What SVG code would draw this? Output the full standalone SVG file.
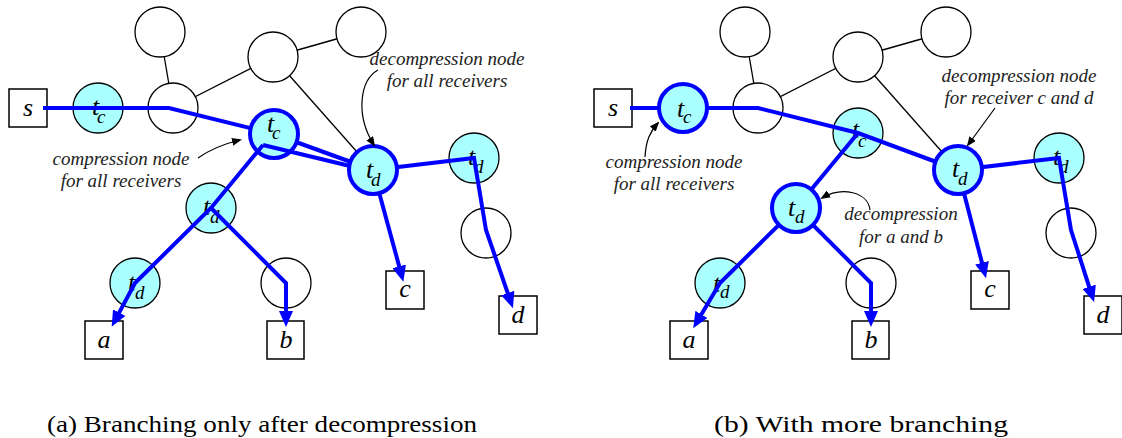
<svg xmlns="http://www.w3.org/2000/svg" width="1122" height="438" viewBox="0 0 1122 438">
<style>
.e{stroke:#000;stroke-width:1.3;fill:none}
.w{fill:#fff;stroke:#000;stroke-width:1.3}
.cy{fill:#aaffff;stroke:#000;stroke-width:1.3}
.bd{fill:#aaffff;stroke:#0000ff;stroke-width:4}
.bx{fill:#fff;stroke:#000;stroke-width:1.5}
.bl{stroke:#0000ff;stroke-width:4;fill:none;stroke-linejoin:miter}
.an{stroke:#000;stroke-width:1.2;fill:none}
.lb{font-family:'Liberation Serif','Times New Roman','DejaVu Serif',serif;font-style:italic;font-size:26px;fill:#000}
.sb{font-family:'Liberation Serif','Times New Roman','DejaVu Serif',serif;font-style:italic;font-size:19px;fill:#000}
.nt{font-family:'Liberation Serif','Times New Roman','DejaVu Serif',serif;font-style:italic;font-size:19px;fill:#222;text-anchor:middle}
.cap{font-family:'Liberation Serif','Times New Roman','DejaVu Serif',serif;font-size:23px;fill:#000}
</style>
<defs>
<marker id="ab" viewBox="0 0 16 14" refX="10" refY="7" markerWidth="16" markerHeight="14" markerUnits="userSpaceOnUse" orient="auto"><path d="M0,0 L16,7 L0,14 z" fill="#0000ff"/></marker>
<marker id="ak" viewBox="0 0 10 8" refX="8" refY="4" markerWidth="10" markerHeight="8" markerUnits="userSpaceOnUse" orient="auto"><path d="M0,0 L10,4 L0,8 z" fill="#000"/></marker>
</defs>

<!-- ===== Left diagram (a) ===== -->
<g id="a-edges">
<line class="e" x1="160" y1="32" x2="173" y2="108"/>
<line class="e" x1="173" y1="108" x2="273" y2="57"/>
<line class="e" x1="273" y1="57" x2="361" y2="32"/>
<line class="e" x1="273" y1="57" x2="373" y2="170"/>
</g>
<g id="a-n1"><circle class="w" cx="160" cy="32" r="25"/></g>
<g id="a-n2"><circle class="w" cx="173" cy="108" r="25"/></g>
<g id="a-n3"><circle class="w" cx="273" cy="57" r="25"/></g>
<g id="a-n4"><circle class="w" cx="361" cy="32" r="25"/></g>
<g id="a-n5"><circle class="w" cx="286" cy="283" r="25"/></g>
<g id="a-n6"><circle class="w" cx="486" cy="233" r="25"/></g>
<g id="a-tc1"><circle class="cy" cx="98" cy="108" r="25"/><text class="lb" x="92" y="115">t</text><text class="sb" x="97" y="123">c</text></g>
<g id="a-td1"><circle class="cy" cx="211" cy="208" r="25"/><text class="lb" x="203" y="215">t</text><text class="sb" x="210" y="223">d</text></g>
<g id="a-td2"><circle class="cy" cx="135" cy="283" r="25"/><text class="lb" x="128" y="291">t</text><text class="sb" x="135" y="299">d</text></g>
<g id="a-td3"><circle class="cy" cx="474" cy="158" r="25"/><text class="lb" x="468" y="165">t</text><text class="sb" x="474" y="173">d</text></g>
<g id="a-s"><rect class="bx" x="9" y="89" width="38" height="38"/><text class="lb" x="28" y="116" text-anchor="middle">s</text></g>
<g id="a-a"><rect class="bx" x="85" y="321" width="38" height="38"/><text class="lb" x="104" y="348" text-anchor="middle">a</text></g>
<g id="a-b"><rect class="bx" x="267" y="321" width="37" height="38"/><text class="lb" x="286" y="348" text-anchor="middle">b</text></g>
<g id="a-c"><rect class="bx" x="386" y="271" width="38" height="38"/><text class="lb" x="405" y="297" text-anchor="middle">c</text></g>
<g id="a-d"><rect class="bx" x="499" y="296" width="38" height="38"/><text class="lb" x="518" y="323" text-anchor="middle">d</text></g>

<g id="a-paths">
<path class="bl" d="M43,108 L169,108 L274,134"/>
<path class="bl" d="M274,134 L373,170"/>
<path class="bl" d="M373,170 L474,158 L486,230 L511,302.5" marker-end="url(#ab)"/>
<path class="bl" d="M373,170 L401.8,276" marker-end="url(#ab)"/>
<path class="bl" d="M211,208 L286,283 L286,321" marker-end="url(#ab)"/>
</g>
<g id="a-tcb"><circle class="bd" cx="274" cy="134" r="24"/><text class="lb" x="267" y="132">t</text><text class="sb" x="272" y="139">c</text></g>
<g id="a-paths2">
<path class="bl" d="M263,145 L350,166" stroke-width="3"/>
<path class="bl" d="M263,145 L211,208 L135,283 L114.5,321.4" marker-end="url(#ab)"/>
</g>
<g id="a-tdb"><circle class="bd" cx="373" cy="170" r="24"/><text class="lb" x="366" y="178">t</text><text class="sb" x="371" y="186">d</text></g>

<g id="a-notes">
<text class="nt" x="121" y="165">compression node</text>
<text class="nt" x="121" y="187">for all receivers</text>
<path class="an" d="M198,158 Q215,146 240,140" marker-end="url(#ak)"/>
<text class="nt" x="447" y="65">decompression node</text>
<text class="nt" x="447" y="87">for all receivers</text>
<path class="an" d="M378,70 C360,80 355,115 374,145" marker-end="url(#ak)"/>
</g>

<!-- ===== Right diagram (b) ===== -->
<g id="b-edges">
<line class="e" x1="745" y1="32" x2="758" y2="108"/>
<line class="e" x1="758" y1="108" x2="858" y2="57"/>
<line class="e" x1="858" y1="57" x2="946" y2="32"/>
<line class="e" x1="858" y1="57" x2="958" y2="170"/>
</g>
<g id="b-n1"><circle class="w" cx="745" cy="32" r="25"/></g>
<g id="b-n2"><circle class="w" cx="758" cy="108" r="25"/></g>
<g id="b-n3"><circle class="w" cx="858" cy="57" r="25"/></g>
<g id="b-n4"><circle class="w" cx="946" cy="32" r="25"/></g>
<g id="b-n5"><circle class="w" cx="871" cy="283" r="25"/></g>
<g id="b-n6"><circle class="w" cx="1071" cy="233" r="25"/></g>
<g id="b-tc2"><circle class="cy" cx="858" cy="133" r="25"/><text class="lb" x="852" y="138">t</text><text class="sb" x="858" y="147">c</text></g>
<g id="b-td2"><circle class="cy" cx="720" cy="283" r="25"/><text class="lb" x="713" y="292">t</text><text class="sb" x="720" y="298">d</text></g>
<g id="b-td3"><circle class="cy" cx="1059" cy="158" r="25"/><text class="lb" x="1053" y="165">t</text><text class="sb" x="1059" y="173">d</text></g>
<g id="b-s"><rect class="bx" x="594" y="89" width="38" height="38"/><text class="lb" x="613" y="116" text-anchor="middle">s</text></g>
<g id="b-a"><rect class="bx" x="670" y="321" width="38" height="38"/><text class="lb" x="689" y="348" text-anchor="middle">a</text></g>
<g id="b-b"><rect class="bx" x="852" y="321" width="37" height="38"/><text class="lb" x="871" y="348" text-anchor="middle">b</text></g>
<g id="b-c"><rect class="bx" x="971" y="271" width="38" height="38"/><text class="lb" x="990" y="297" text-anchor="middle">c</text></g>
<g id="b-d"><rect class="bx" x="1084" y="296" width="38" height="38"/><text class="lb" x="1103" y="323" text-anchor="middle">d</text></g>

<g id="b-paths">
<path class="bl" d="M630,108 L683,108"/>
<path class="bl" d="M683,108 L758,108 L858,133 L958,170"/>
<path class="bl" d="M858,133 L796,208"/>
<path class="bl" d="M796,208 L720,283 L696.3,323" marker-end="url(#ab)"/>
<path class="bl" d="M796,208 L871,283 L871,321" marker-end="url(#ab)"/>
<path class="bl" d="M958,170 L984.5,272.5" marker-end="url(#ab)"/>
<path class="bl" d="M958,170 L1059,158 L1071,230 L1092.2,296.3" marker-end="url(#ab)"/>
</g>
<g id="b-tcb"><circle class="bd" cx="683" cy="108" r="24"/><text class="lb" x="677" y="117">t</text><text class="sb" x="683" y="123">c</text></g>
<g id="b-tdb1"><circle class="bd" cx="796" cy="208" r="24"/><text class="lb" x="788" y="216">t</text><text class="sb" x="795" y="223">d</text></g>
<g id="b-tdb2"><circle class="bd" cx="958" cy="170" r="24"/><text class="lb" x="952" y="177">t</text><text class="sb" x="958" y="185">d</text></g>

<g id="b-notes">
<text class="nt" x="674" y="168">compression node</text>
<text class="nt" x="674" y="190">for all receivers</text>
<path class="an" d="M645,157 C646,140 650,132 658,123" marker-end="url(#ak)"/>
<text class="nt" x="1019" y="82">decompression node</text>
<text class="nt" x="1019" y="104">for receiver c and d</text>
<path class="an" d="M995,108 L968,145" marker-end="url(#ak)"/>
<text class="nt" x="901" y="220">decompression</text>
<text class="nt" x="901" y="243">for a and b</text>
<path class="an" d="M870,210 C868,192 842,186 822,198" marker-end="url(#ak)"/>
</g>

<g id="captions">
<text class="cap" x="47" y="432" textLength="430" lengthAdjust="spacingAndGlyphs">(a) Branching only after decompression</text>
<text class="cap" x="714" y="432" textLength="294" lengthAdjust="spacingAndGlyphs">(b) With more branching</text>
</g>
</svg>
